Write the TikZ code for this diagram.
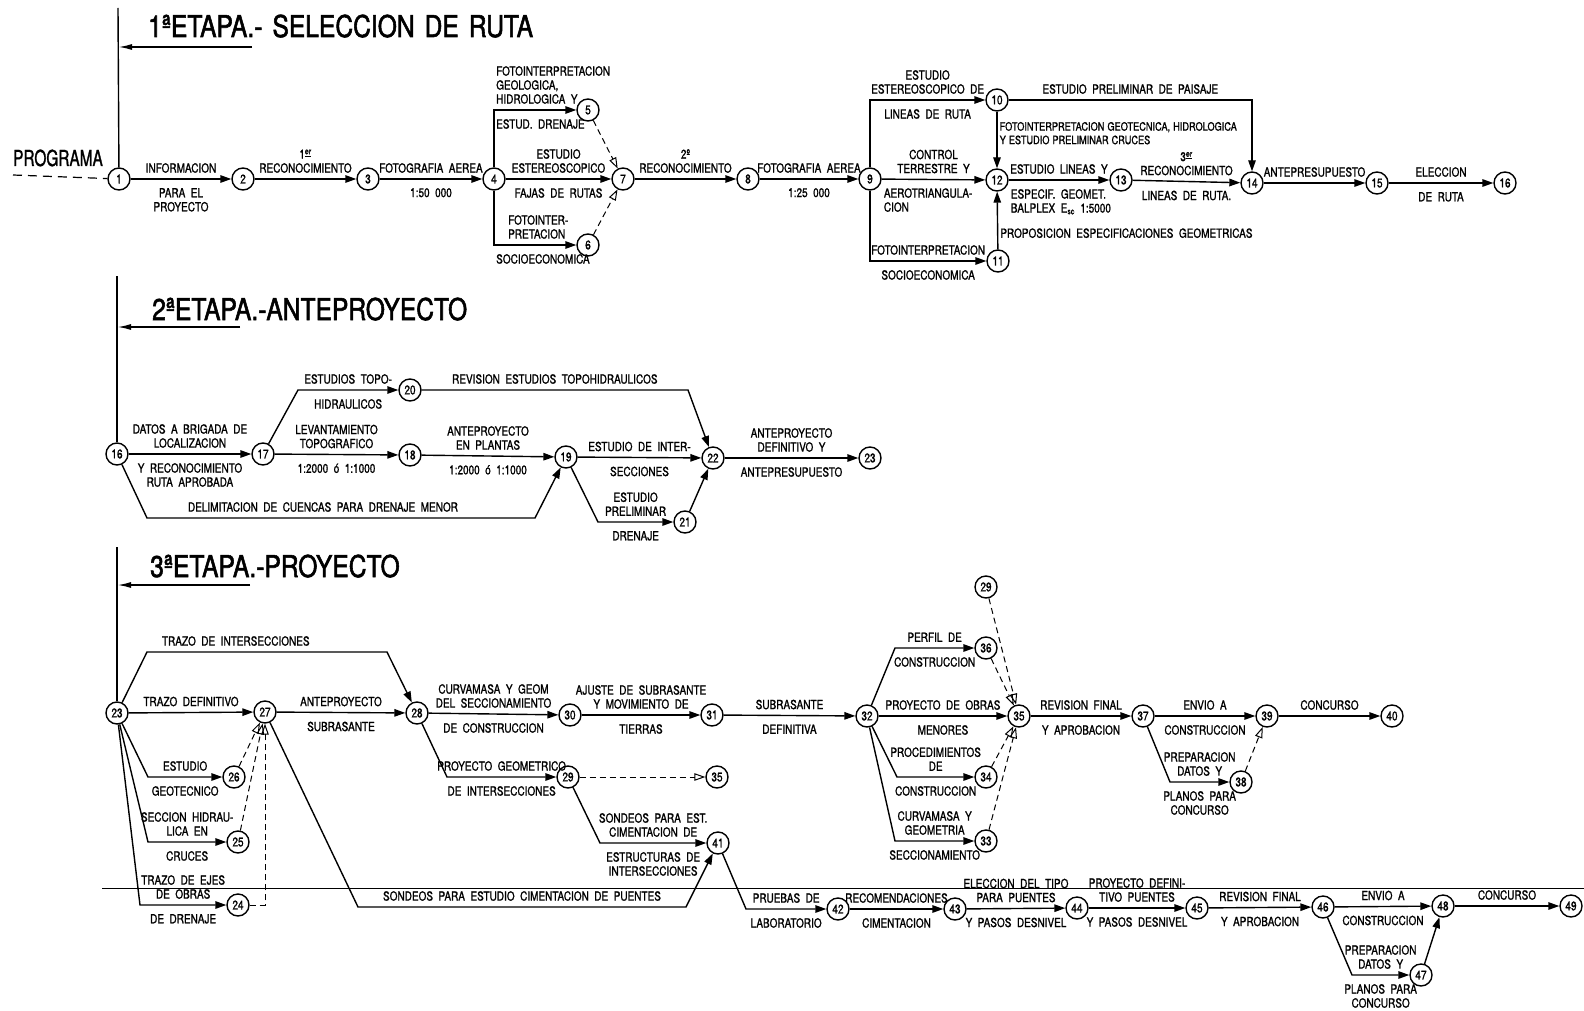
\documentclass[tikz,border=0pt]{standalone}
\usepackage{fontspec}
\setmainfont{TeX Gyre Heros}[FakeStretch=0.8,FakeBold=1.2]
\newfontfamily\titlefont{TeX Gyre Heros}[FakeStretch=0.82,FakeBold=1.8]
\newfontfamily\progfont{TeX Gyre Heros}[FakeStretch=0.7,FakeBold=1.2]
\usetikzlibrary{arrows.meta}

\newcommand{\lblfont}{\fontsize{12.5}{14}\selectfont\spaceskip=5.5pt\relax}
\newcommand{\tightfont}{\fontsize{11.5}{13.5}\selectfont\spaceskip=3pt\relax}
\newcommand{\stagefont}{\titlefont\fontsize{30}{30}\selectfont\spaceskip=10pt\relax}
\tikzstyle{event}=[circle,draw,line width=1.4pt,minimum size=22pt,inner sep=0pt,font=\fontsize{12.5}{12.5}\selectfont]
\tikzstyle{activity}=[draw,line width=1.4pt,-{Triangle[length=11pt,width=7.5pt]}]
\tikzstyle{dummy}=[draw,line width=1pt,dash pattern=on 6pt off 4pt,-{Triangle[open,length=11pt,width=7.5pt]}]
\tikzstyle{lbl above}=[above=4pt,font=\lblfont,align=center,inner sep=1.5pt]
\tikzstyle{lbl below}=[below=7pt,font=\lblfont,align=center,inner sep=1.5pt]
\tikzstyle{lbl right}=[anchor=west,font=\lblfont,align=left,inner sep=2pt]
\tikzstyle{stage title}=[anchor=base west,inner sep=0pt,font=\stagefont]
\tikzstyle{stage line}=[draw,line width=1.4pt]
\tikzstyle{stage bar}=[draw,line width=1.8pt,-{Latex[length=14pt,width=6pt]}]

\begin{document}
\begin{tikzpicture}[x=1pt,y=-1pt]
\useasboundingbox (0,0) rectangle (1584,1011);

% 1a etapa
\node[stage title] (title1) at (148,37) {1ªETAPA.- SELECCION DE RUTA};
\foreach \pos/\name/\num in {{(119,179)/n1/1}, {(243,179)/n2/2}, {(368,179)/n3/3}, {(494,179)/n4/4},
                             {(588,110)/n5/5}, {(588,245)/n6/6}, {(623,179)/n7/7}, {(748,179)/n8/8},
                             {(870,179)/n9/9}, {(997,100)/n10/10}, {(998,261)/n11/11}, {(997,180)/n12/12},
                             {(1121,180)/n13/13}, {(1252,183)/n14/14}, {(1377,183)/n15/15}, {(1505,183)/n16/16}}{
  \node[event] (\name) at \pos {\num};
}
\coordinate (top1) at (118,8);
\coordinate (bar1) at (252,47);
\coordinate (bar1end) at (118,47);
\coordinate (prog) at (13,175);
\path[stage line] (top1) -- (n1);
\path[stage bar] (bar1) -- (bar1end);
\node[anchor=base west,inner sep=0pt,font=\progfont\fontsize{22}{22}\selectfont] (programa) at (13,166) {PROGRAMA};
\draw[line width=1.2pt,dash pattern=on 9pt off 6pt] (prog) -- (n1);

\foreach \source/\dest/\upper/\lower in {n1/n2/{INFORMACION}/{PARA EL\\PROYECTO},
                                        n2/n3/{1\textsuperscript{\underline{er}}\\RECONOCIMIENTO}/{},
                                        n3/n4/{FOTOGRAFIA AEREA}/{1:50 000},
                                        n4/n7/{ESTUDIO\\ESTEREOSCOPICO}/{FAJAS DE RUTAS},
                                        n7/n8/{2º\\RECONOCIMIENTO}/{},
                                        n8/n9/{FOTOGRAFIA AEREA}/{1:25 000},
                                        n13/n14/{3\textsuperscript{\underline{er}}\\RECONOCIMIENTO}/{LINEAS DE RUTA.},
                                        n14/n15/{ANTEPRESUPUESTO}/{},
                                        n15/n16/{ELECCION}/{DE RUTA}}{
  \path[activity] (\source) -- node[lbl above] {\upper} node[lbl below] {\lower} (\dest);
}
\path[activity] (n4) |- node[lbl above,pos=0.5,anchor=south west,align=left] {FOTOINTERPRETACION\\GEOLOGICA,\\HIDROLOGICA Y}
                        node[lbl below,pos=0.5,anchor=north west] {ESTUD. DRENAJE} (n5);
\path[activity] (n4) |- node[lbl above,pos=0.5,anchor=south west,align=left,xshift=12pt] {FOTOINTER-\\PRETACION}
                        node[lbl below,pos=0.5,anchor=north west] {SOCIOECONOMICA} (n6);
\path[dummy] (n5) -- (n7);
\path[dummy] (n6) -- (n7);
\path[activity] (n9) |- node[lbl above,pos=0.75] {ESTUDIO\\ESTEREOSCOPICO DE} node[lbl below,pos=0.75] {LINEAS DE RUTA} (n10);
\path[activity] (n9) |- node[lbl above,pos=0.75] {FOTOINTERPRETACION} node[lbl below,pos=0.75] {SOCIOECONOMICA} (n11);
\path[activity] (n9) -- node[lbl above] {CONTROL\\TERRESTRE Y}
                        node[lbl below,pos=0,anchor=north west,align=left] {AEROTRIANGULA-\\CION} (n12);
\path[activity] (n10) -- node[lbl right,pos=0.38,font=\tightfont] {FOTOINTERPRETACION GEOTECNICA, HIDROLOGICA\\Y ESTUDIO PRELIMINAR CRUCES} (n12);
\path[activity] (n11) -- node[lbl right,pos=0.28] {PROPOSICION ESPECIFICACIONES GEOMETRICAS} (n12);
\path[activity] (n10) -| node[lbl above,pos=0.25] {ESTUDIO PRELIMINAR DE PAISAJE} (n14);
\path[activity] (n12) -- node[lbl above] {ESTUDIO LINEAS Y}
                         node[lbl below,pos=0,anchor=north west,align=left] {ESPECIF. GEOMET.\\BALPLEX E\textsubscript{sc} 1:5000} (n13);

% 2a etapa
\node[stage title] (title2) at (152,320) {2ªETAPA.-ANTEPROYECTO};
\foreach \pos/\name/\num in {{(117,454)/n16b/16}, {(263,454)/n17/17}, {(410,455)/n18/18}, {(566,457)/n19/19},
                             {(410,390)/n20/20}, {(685,522)/n21/21}, {(713,458)/n22/22}, {(870,458)/n23/23}}{
  \node[event] (\name) at \pos {\num};
}
\coordinate (top2) at (117,276);
\coordinate (bar2) at (240,327);
\coordinate (bar2end) at (117,327);
\path[stage line] (top2) -- (n16b);
\path[stage bar] (bar2) -- (bar2end);

\foreach \source/\dest/\upper/\lower in {n16b/n17/{DATOS A BRIGADA DE\\LOCALIZACION}/{Y RECONOCIMIENTO\\RUTA APROBADA},
                                        n17/n18/{LEVANTAMIENTO\\TOPOGRAFICO}/{1:2000 ó 1:1000},
                                        n18/n19/{ANTEPROYECTO\\EN PLANTAS}/{1:2000 ó 1:1000},
                                        n19/n22/{ESTUDIO DE INTER-}/{SECCIONES},
                                        n22/n23/{ANTEPROYECTO\\DEFINITIVO Y}/{ANTEPRESUPUESTO}}{
  \path[activity] (\source) -- node[lbl above] {\upper} node[lbl below] {\lower} (\dest);
}
\path[activity] (n17) -- (298,390) -- node[lbl above] {ESTUDIOS TOPO-} node[lbl below] {HIDRAULICOS} (n20);
\path[activity] (n20) -- node[lbl above] {REVISION ESTUDIOS TOPOHIDRAULICOS} (688,390) -- (n22);
\path[activity] (n16b) -- (147,518) -- node[lbl above,xshift=-18pt] {DELIMITACION DE CUENCAS PARA DRENAJE MENOR} (535,518) -- (n19);
\path[activity] (n19) -- (598,522) -- node[lbl above] {ESTUDIO\\PRELIMINAR} node[lbl below] {DRENAJE} (n21);
\path[activity] (n21) -- (n22);

% 3a etapa
\node[stage title] (title3) at (150,577) {3ªETAPA.-PROYECTO};
\foreach \pos/\name/\num in {{(117,713)/n23b/23}, {(265,712)/n27/27}, {(417,713)/n28/28}, {(570,715)/n30/30},
                             {(712,715)/n31/31}, {(867,716)/n32/32}, {(1019,716)/n35/35}, {(1143,716)/n37/37},
                             {(1267,716)/n39/39}, {(1392,716)/n40/40}, {(986,587)/n29b/29}, {(986,648)/n36/36},
                             {(986,777)/n34/34}, {(986,841)/n33/33}, {(1241,782)/n38/38}, {(234,777)/n26/26},
                             {(238,842)/n25/25}, {(238,905)/n24/24}, {(568,777)/n29/29}, {(717,777)/n35b/35},
                             {(718,843)/n41/41}, {(838,909)/n42/42}, {(955,909)/n43/43}, {(1077,908)/n44/44},
                             {(1197,908)/n45/45}, {(1323,907)/n46/46}, {(1443,906)/n48/48}, {(1571,906)/n49/49},
                             {(1421,975)/n47/47}}{
  \node[event] (\name) at \pos {\num};
}
\coordinate (top3) at (117,547);
\coordinate (bar3) at (250,585);
\coordinate (bar3end) at (117,585);
\path[stage line] (top3) -- (n23b);
\path[stage bar] (bar3) -- (bar3end);

\foreach \source/\dest/\upper/\lower in {n23b/n27/{TRAZO DEFINITIVO}/{},
                                        n27/n28/{ANTEPROYECTO}/{SUBRASANTE},
                                        n28/n30/{CURVAMASA Y GEOM\\DEL SECCIONAMIENTO}/{DE CONSTRUCCION},
                                        n30/n31/{AJUSTE DE SUBRASANTE\\Y MOVIMIENTO DE}/{TIERRAS},
                                        n31/n32/{SUBRASANTE}/{DEFINITIVA},
                                        n32/n35/{PROYECTO DE OBRAS}/{MENORES},
                                        n35/n37/{REVISION FINAL}/{Y APROBACION},
                                        n37/n39/{ENVIO A}/{CONSTRUCCION},
                                        n39/n40/{CONCURSO}/{},
                                        n42/n43/{RECOMENDACIONES}/{CIMENTACION},
                                        n43/n44/{ELECCION DEL TIPO\\PARA PUENTES}/{Y PASOS DESNIVEL},
                                        n44/n45/{PROYECTO DEFINI-\\TIVO PUENTES}/{Y PASOS DESNIVEL},
                                        n45/n46/{REVISION FINAL}/{Y APROBACION},
                                        n46/n48/{ENVIO A}/{CONSTRUCCION},
                                        n48/n49/{CONCURSO}/{}}{
  \path[activity] (\source) -- node[lbl above] {\upper} node[lbl below] {\lower} (\dest);
}
\path[activity] (n23b) -- (147,652) -- node[lbl above,pos=0.37] {TRAZO DE INTERSECCIONES} (387,652) -- (n28);
\path[activity] (n23b) -- (148,777) -- node[lbl above] {ESTUDIO} node[lbl below] {GEOTECNICO} (n26);
\path[activity] (n23b) -- (148,842) -- node[lbl above] {SECCION HIDRAU-\\LICA EN} node[lbl below] {CRUCES} (n25);
\path[activity] (n23b) -- (140,905) -- node[lbl above] {TRAZO DE EJES\\DE OBRAS} node[lbl below] {DE DRENAJE} (n24);
\path[dummy] (n26) -- (n27);
\path[dummy] (n25) -- (n27);
\path[dummy] (n24) -| (n27);
\path[activity] (n27) -- (358,907) -- node[lbl above] {SONDEOS PARA ESTUDIO CIMENTACION DE PUENTES} (686,907) -- (n41);
\path[activity] (n28) -- (447,777) -- node[lbl above] {PROYECTO GEOMETRICO} node[lbl below] {DE INTERSECCIONES} (n29);
\path[dummy] (n29) -- (n35b);
\path[activity] (n29) -- (600,843) -- node[lbl above] {SONDEOS PARA EST.\\CIMENTACION DE} node[lbl below] {ESTRUCTURAS DE\\INTERSECCIONES} (n41);
\path[activity] (n41) -- (746,909) -- node[lbl above] {PRUEBAS DE} node[lbl below] {LABORATORIO} (n42);
\path[activity] (n32) -- (895,648) -- node[lbl above] {PERFIL DE} node[lbl below] {CONSTRUCCION} (n36);
\path[activity] (n32) -- (897,777) -- node[lbl above] {PROCEDIMIENTOS\\DE} node[lbl below] {CONSTRUCCION} (n34);
\path[activity] (n32) -- (895,841) -- node[lbl above] {CURVAMASA Y\\GEOMETRIA} node[lbl below] {SECCIONAMIENTO} (n33);
\foreach \source in {n29b,n36,n34,n33}{
  \path[dummy] (\source) -- (n35);
}
\path[activity] (n37) -- (1170,782) -- node[lbl above] {PREPARACION\\DATOS Y} node[lbl below] {PLANOS PARA\\CONCURSO} (n38);
\path[dummy] (n38) -- (n39);
\path[activity] (n46) -- (1352,975) -- node[lbl above] {PREPARACION\\DATOS Y} node[lbl below] {PLANOS PARA\\CONCURSO} (n47);
\path[activity] (n47) -- (n48);

% raya del original
\coordinate (scanL) at (102,888);
\coordinate (scanR) at (1584,888);
\draw[line width=0.8pt] (scanL) -- (scanR);
\end{tikzpicture}
\end{document}
